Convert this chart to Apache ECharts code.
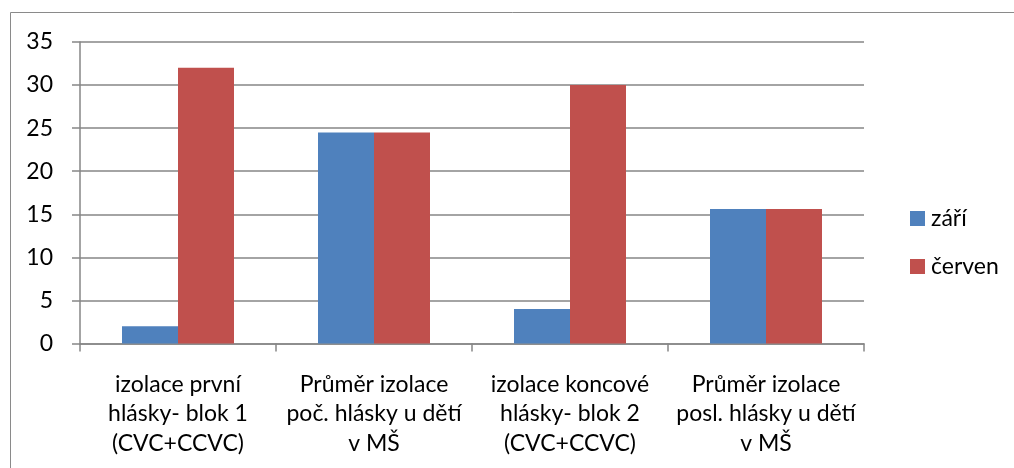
<!DOCTYPE html>
<html>
<head>
<meta charset="utf-8">
<script src="https://cdn.jsdelivr.net/npm/echarts@6/dist/echarts.min.js"></script>
<style>
  html, body { margin: 0; padding: 0; background: #fff; }
  #chart { width: 1014px; height: 468px; }
</style>
</head>
<body>
<div id="chart"></div>
<script>
  const categories = [
    'izolace první\nhlásky- blok 1\n(CVC+CCVC)',
    'Průměr izolace\npoč. hlásky u dětí\nv MŠ',
    'izolace koncové\nhlásky- blok 2\n(CVC+CCVC)',
    'Průměr izolace\nposl. hlásky u dětí\nv MŠ'
  ];
  const zari = [2, 24.5, 4, 15.6];
  const cerven = [32, 24.5, 30, 15.6];
  const yTicks = { min: 0, max: 35, interval: 5 };

  const font = 'Lato, "Open Sans", sans-serif';
  const chart = echarts.init(document.getElementById('chart'));

  chart.setOption({
    animation: false,
    textStyle: { fontFamily: font },
    color: ['#4F81BD', '#C0504D'],
    graphic: [{
      type: 'rect',
      shape: { x: 10.5, y: 12.5, width: 1010, height: 470 },
      style: { fill: 'none', stroke: '#8a8a8a', lineWidth: 1 }
    }],
    legend: {
      orient: 'vertical',
      left: 910,
      top: 207,
      padding: 0,
      itemWidth: 15,
      itemHeight: 15,
      itemGap: 25,
      icon: 'rect',
      textStyle: { fontSize: 23, color: '#000', fontFamily: font, padding: [0, 0, 0, 1] },
      data: ['září', 'červen']
    },
    grid: { left: 80, right: 150, top: 42, bottom: 124.5 },
    xAxis: {
      type: 'category',
      data: categories,
      axisLine: { lineStyle: { color: '#868686', width: 1.5 } },
      axisTick: { show: true, length: 8, lineStyle: { color: '#868686', width: 1.5 } },
      axisLabel: { color: '#000', fontSize: 23, lineHeight: 29.5, margin: 26, fontFamily: font, interval: 0 }
    },
    yAxis: {
      type: 'value',
      min: yTicks.min,
      max: yTicks.max,
      interval: yTicks.interval,
      axisLine: { show: true, lineStyle: { color: '#868686', width: 1.5 } },
      axisTick: { show: true, length: 8, lineStyle: { color: '#868686', width: 1.5 } },
      axisLabel: { color: '#000', fontSize: 23, margin: 27, fontFamily: font },
      splitLine: { lineStyle: { color: '#868686', width: 1.5 } }
    },
    series: [
      { name: 'září', type: 'bar', data: zari, barWidth: 56, barGap: '0%' },
      { name: 'červen', type: 'bar', data: cerven, barWidth: 56 }
    ]
  });
</script>
</body>
</html>
